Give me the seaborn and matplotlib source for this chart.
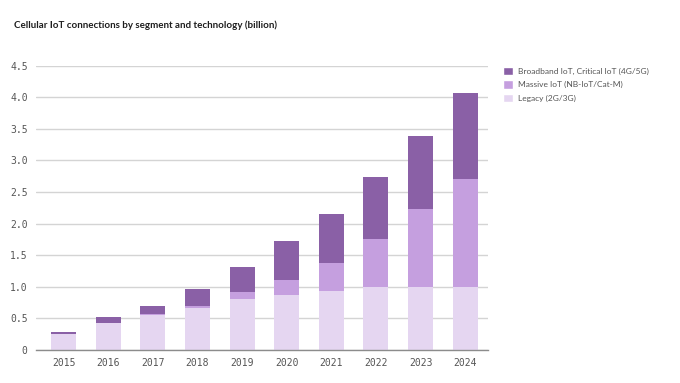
import numpy as np
import pandas as pd
import matplotlib
matplotlib.use("Agg")
import matplotlib.pyplot as plt
from matplotlib.patches import Patch
import seaborn as sns

# values (billion)
years = ["2015", "2016", "2017", "2018", "2019", "2020", "2021", "2022", "2023", "2024"]
legacy = [0.26, 0.42, 0.56, 0.67, 0.81, 0.87, 0.94, 1.00, 1.00, 1.00]
massive = [0.00, 0.00, 0.01, 0.03, 0.10, 0.24, 0.44, 0.75, 1.23, 1.71]
broadband = [0.03, 0.11, 0.13, 0.27, 0.40, 0.61, 0.78, 0.99, 1.16, 1.36]
yticks = [0, 0.5, 1.0, 1.5, 2.0, 2.5, 3.0, 3.5, 4.0, 4.5]
ytick_labels = ["0", "0.5", "1.0", "1.5", "2.0", "2.5", "3.0", "3.5", "4.0", "4.5"]

labels = ["Broadband IoT, Critical IoT (4G/5G)", "Massive IoT (NB-IoT/Cat-M)", "Legacy (2G/3G)"]
colors = {"broadband": "#8a60a6", "massive": "#c59fdf", "legacy": "#e5d6f1"}

df = pd.DataFrame({"year": years, "legacy": legacy, "massive": massive, "broadband": broadband})
df["base_b"] = df["legacy"] + df["massive"]

sns.set_style("white")
plt.rcParams["font.family"] = ["Lato", "DejaVu Sans"]

fig = plt.figure(figsize=(6.8, 3.83), dpi=100)
ax = fig.add_axes([0.053, 0.0862, 0.665, 0.7423])

bw = 0.56
sns.barplot(data=df, x="year", y="legacy", order=years, color=colors["legacy"],
            width=bw, saturation=1, ax=ax, zorder=2, linewidth=0)
sns.barplot(data=df, x="year", y="massive", order=years, color=colors["massive"],
            width=bw, saturation=1, ax=ax, zorder=2, linewidth=0, bottom=df["legacy"])
sns.barplot(data=df, x="year", y="broadband", order=years, color=colors["broadband"],
            width=bw, saturation=1, ax=ax, zorder=2, linewidth=0, bottom=df["base_b"])

ax.set_ylim(0, 4.5)
ax.set_xlim(-0.617, 9.516)
ax.set_yticks(yticks)
ax.set_yticklabels(ytick_labels)
ax.set_xlabel("")
ax.set_ylabel("")
ax.yaxis.grid(True, color="#d4d4d4", linewidth=1.0, zorder=0)
ax.set_axisbelow(True)
for side in ["left", "right", "top"]:
    ax.spines[side].set_visible(False)
ax.spines["bottom"].set_color("#8c8c8c")
ax.spines["bottom"].set_linewidth(1.0)
ax.tick_params(axis="both", length=0, labelsize=7, labelcolor="#555555", pad=6)
for t in ax.get_xticklabels() + ax.get_yticklabels():
    t.set_fontfamily("DejaVu Sans Mono")

fig.text(0.0206, 0.935, "Cellular IoT connections by segment and technology (billion)",
         fontsize=7, fontweight="bold", color="#1e1e1e", va="center", ha="left")

handles = [Patch(facecolor=colors["broadband"]), Patch(facecolor=colors["massive"]),
           Patch(facecolor=colors["legacy"])]
fig.legend(handles, labels, loc="upper left", bbox_to_anchor=(0.735, 0.835),
           frameon=False, fontsize=6.0, labelcolor="#555555", handlelength=1.2,
           handleheight=1.2, handletextpad=0.6, labelspacing=0.6, borderaxespad=0)

fig.savefig("out.png", dpi=100)
